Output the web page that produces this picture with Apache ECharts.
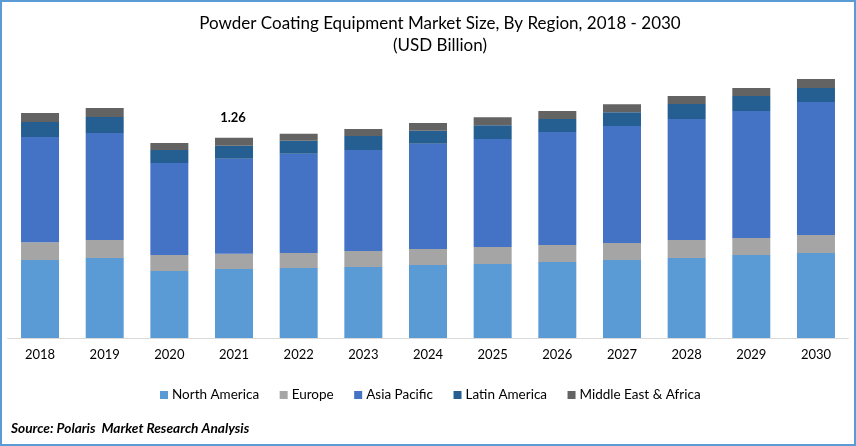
<!DOCTYPE html>
<html>
<head>
<meta charset="utf-8">
<style>
html,body{margin:0;padding:0;background:#fff;}
#chart{width:856px;height:446px;}
</style>
<script src="https://cdn.jsdelivr.net/npm/echarts@6/dist/echarts.min.js"></script>
</head>
<body>
<div id="chart"></div>
<script>
var years = ['2018','2019','2020','2021','2022','2023','2024','2025','2026','2027','2028','2029','2030'];
var northAmerica = [0.491,0.504,0.422,0.435,0.441,0.447,0.460,0.466,0.479,0.491,0.504,0.523,0.536];
var europe = [0.113,0.113,0.101,0.095,0.095,0.101,0.101,0.107,0.107,0.107,0.113,0.107,0.113];
var asiaPacific = [0.662,0.674,0.580,0.599,0.624,0.636,0.662,0.680,0.712,0.737,0.762,0.800,0.838];
var latinAmerica = [0.095,0.101,0.082,0.082,0.082,0.088,0.082,0.088,0.082,0.088,0.095,0.095,0.088];
var middleEast = [0.057,0.057,0.044,0.050,0.044,0.044,0.050,0.050,0.050,0.050,0.050,0.050,0.057];
var labelYear = '2021';
var labelText = '1.26';

var font = 'Lato';
var names = ['North America','Europe','Asia Pacific','Latin America','Middle East & Africa'];
var colors = ['#5b9bd5','#a5a5a5','#4472c4','#255e91','#636363'];
var lists = [northAmerica,europe,asiaPacific,latinAmerica,middleEast];

var series = names.map(function(name,i){
	return {
		name:name,
		type:'bar',
		stack:'total',
		barWidth:38,
		itemStyle:{color:colors[i]},
		data:lists[i].map(function(v,j){
			// only the one year carries a label, on top of the stack
			if(i === 4 && years[j] === labelYear){
				return {
					value:v,
					label:{
						show:true,
						position:'top',
						offset:[-1,-9],
						formatter:labelText,
						fontFamily:font,
						fontSize:13,
						fontWeight:'bold',
						color:'#000'
					}
				};
			}
			return v;
		})
	};
});

var chart = echarts.init(document.getElementById('chart'),null,{renderer:'canvas'});
chart.setOption({
	animation:false,
	backgroundColor:'#fff',
	title:[
		{
			text:'Powder Coating Equipment Market Size, By Region, 2018 - 2030\n(USD Billion)',
			left:435,
			top:8,
			textAlign:'center',
			textStyle:{fontFamily:font,fontSize:17,fontWeight:'normal',color:'#000',lineHeight:22}
		},
		{
			text:'Source: Polaris  Market Research Analysis',
			left:6,
			top:417,
			textStyle:{fontFamily:font,fontSize:13.7,fontWeight:'bold',fontStyle:'italic',color:'#000'}
		}
	],
	legend:{
		left:155,
		top:383,
		itemWidth:8,
		itemHeight:8,
		itemGap:20.5,
		icon:'rect',
		data:names,
		textStyle:{fontFamily:font,fontSize:13.5,color:'#000',padding:[0,0,0,-1]}
	},
	grid:{left:7.7,right:7.7,top:60,bottom:108},
	xAxis:{
		type:'category',
		data:years,
		axisTick:{show:false},
		axisLine:{lineStyle:{color:'#d9d9d9',width:1}},
		axisLabel:{fontFamily:font,fontSize:13,color:'#000',margin:10}
	},
	yAxis:{
		type:'value',
		min:0,
		max:1.7514,
		show:false,
		splitLine:{show:false}
	},
	series:series,
	graphic:[{
		type:'rect',
		silent:true,
		shape:{x:1,y:1,width:854,height:444},
		style:{fill:'none',stroke:'#5b9bd5',lineWidth:2}
	}]
});
</script>
</body>
</html>
